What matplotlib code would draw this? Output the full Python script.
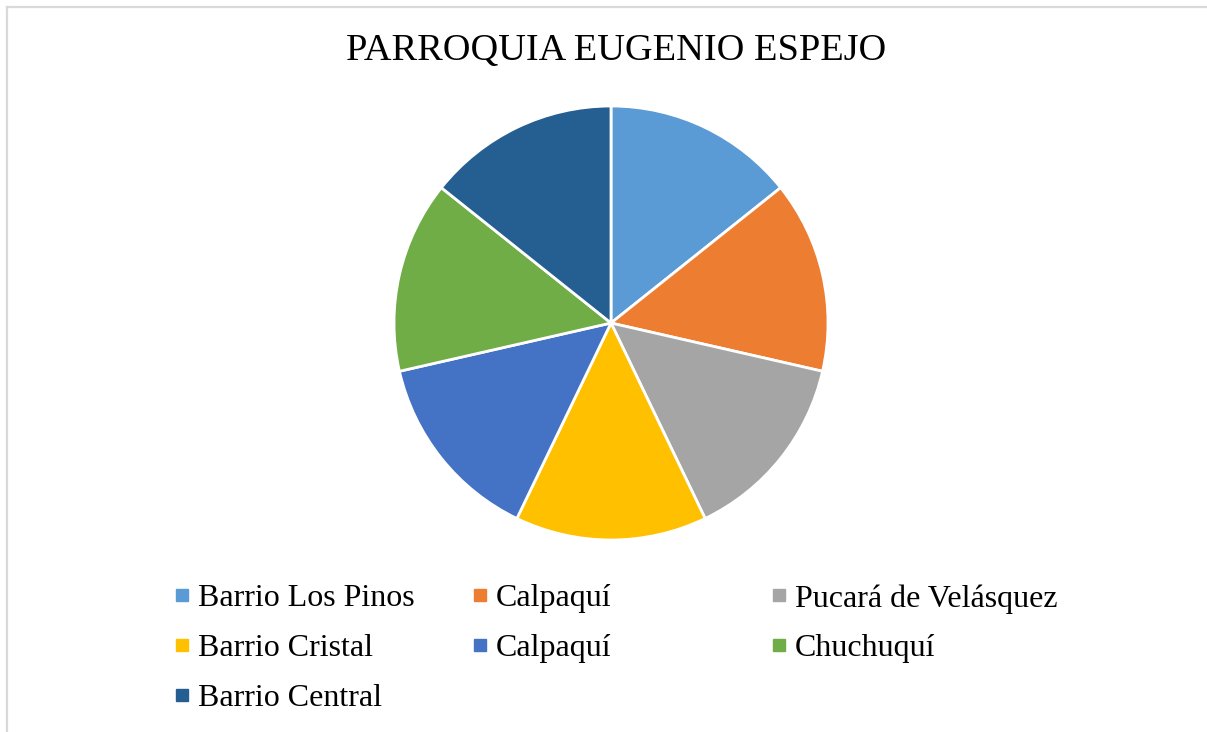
import matplotlib
matplotlib.use("Agg")
import matplotlib.pyplot as plt
from matplotlib.lines import Line2D

# Datos
barrios = ["Barrio Los Pinos", "Calpaquí", "Pucará de Velásquez", "Barrio Cristal",
           "Calpaquí", "Chuchuquí", "Barrio Central"]
valores = [1, 1, 1, 1, 1, 1, 1]
colores = ["#5B9BD5", "#ED7D31", "#A5A5A5", "#FFC000", "#4472C4", "#70AD47", "#255E91"]

W, H = 1207, 732
fig = plt.figure(figsize=(W / 100, H / 100), dpi=100)
fig.patch.set_facecolor("white")

# marco gris (solo arriba e izquierda visibles)
fig.add_artist(Line2D([7 / W, 1.0], [1 - 7 / H, 1 - 7 / H], transform=fig.transFigure,
                      color="#d9d9d9", linewidth=1.6))
fig.add_artist(Line2D([7 / W, 7 / W], [0.0, 1 - 7 / H], transform=fig.transFigure,
                      color="#d9d9d9", linewidth=1.6))

# pastel
cx, cy, r = 611, 323, 217
ax = fig.add_axes([(cx - r) / W, 1 - (cy + r) / H, 2 * r / W, 2 * r / H])
ax.pie(valores, colors=colores, startangle=90, counterclock=False,
       wedgeprops=dict(edgecolor="white", linewidth=2.0))
ax.set_xlim(-1, 1)
ax.set_ylim(-1, 1)
ax.set_axis_off()

fig.text(616 / W, 1 - 51 / H, "PARROQUIA EUGENIO ESPEJO", ha="center", va="center",
         fontsize=27.6, family="Liberation Serif")

# leyenda en tres columnas (orden por filas como en Excel)
columnas = [[0, 3, 6], [1, 4], [2, 5]]
xs = [174, 472, 771]
for idx, x0 in zip(columnas, xs):
    handles = [Line2D([], [], marker="s", linestyle="", color=colores[i], markersize=8.5)
               for i in idx]
    fig.legend(handles, [barrios[i] for i in idx], loc="upper left",
               bbox_to_anchor=(x0 / W, 1 - 584 / H), frameon=False,
               prop=dict(family="Liberation Serif", size=23),
               handlelength=0.5, handletextpad=0.25, labelspacing=0.64,
               borderpad=0, borderaxespad=0)

fig.savefig("out.png", dpi=100, facecolor="white")
